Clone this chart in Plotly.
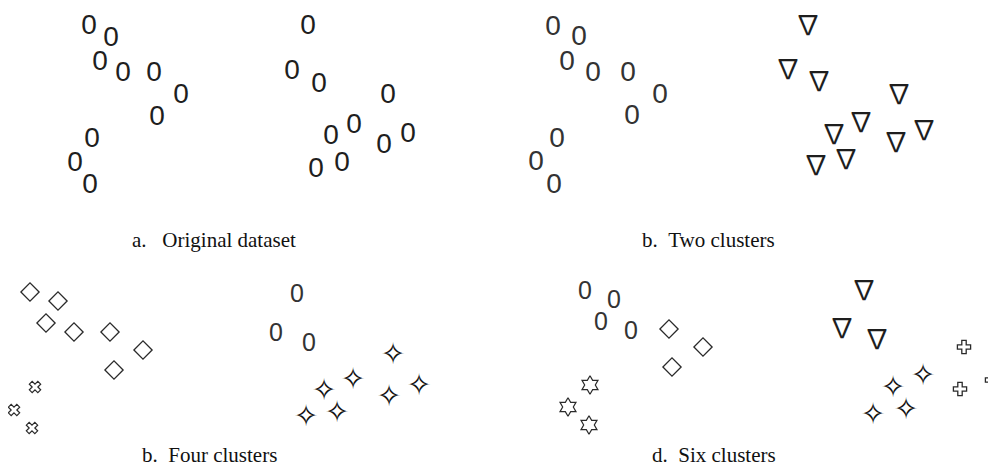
import plotly.graph_objects as go

# ----------------------------------------------------------------------------
# DATA (figure pixel coordinates, y measured from the top)
# ----------------------------------------------------------------------------

# a. Original dataset
orig_x = [89, 111, 100, 123, 154, 181, 157, 92, 75, 90,
          308, 292, 319, 388, 354, 331, 408, 384, 342, 316]
orig_y = [23, 35, 59, 70, 70, 92, 114, 136, 160, 182,
          23, 68, 81, 92, 122, 133, 131, 142, 160, 166]

# b. Two clusters
two_c1_x = [553, 579, 567, 593, 628, 660, 632, 557, 536, 554]
two_c1_y = [24, 34, 59, 70, 70, 92, 113, 136, 159, 182]
two_c2_x = [808, 788, 819, 899, 861, 834, 924, 896, 846, 816]
two_c2_y = [24, 68, 80, 93, 121, 133, 129, 141, 158, 164]

# b. Four clusters
four_c1_x = [30, 58, 46, 74, 110, 143, 114]
four_c1_y = [292, 301, 323, 332, 332, 350, 370]
four_c2_x = [35, 14, 32]
four_c2_y = [387, 410, 428]
four_c3_x = [297, 276, 309]
four_c3_y = [292, 331, 341]
four_c4_x = [393, 353, 324, 419, 389, 337, 306]
four_c4_y = [352, 377, 388, 383, 394, 410, 414]

# d. Six clusters
six_c1_x = [585, 614, 601, 631]
six_c1_y = [289, 298, 320, 329]
six_c2_x = [669, 703, 672]
six_c2_y = [329, 347, 367]
six_c3_x = [590, 568, 589]
six_c3_y = [385, 407, 425]
six_c4_x = [864, 842, 877]
six_c4_y = [289, 327, 338]
six_c5_x = [923, 893, 906, 873]
six_c5_y = [373, 385, 407, 412]
six_c6_x = [964, 960, 992]
six_c6_y = [347, 389, 380]

NBSP = '\u00a0'
captions = ['a.' + NBSP * 3 + 'Original dataset', 'b.' + NBSP * 2 + 'Two clusters',
            'b.' + NBSP * 2 + 'Four clusters', 'd.' + NBSP * 2 + 'Six clusters']
caption_x = [214, 708, 209, 714]
caption_y = [240, 240, 455, 455]

INK = '#1e1e1e'
PAGE_MARGIN = 8  # default body margin of the html page
GLYPH_DY = 4     # text glyphs sit a little high, push them down

fig = go.Figure()


def add_glyphs(x, y, glyph, size, family='Liberation Sans', color=INK):
    # rings, triangles and 4-point stars of the source look like font glyphs
    fig.add_trace(go.Scatter(
        x=x, y=y, mode='text', text=[glyph] * len(x), yaxis='y2',
        textposition='middle center',
        textfont=dict(family=family, size=size, color=color),
        hoverinfo='skip'))


def add_marks(x, y, symbol, size, width=1.3, color='#2a2a2a'):
    fig.add_trace(go.Scatter(
        x=x, y=y, mode='markers',
        marker=dict(symbol=symbol, size=size, color='white',
                    line=dict(color=color, width=width)),
        hoverinfo='skip'))


TRI_FONT = 'Noto Sans CJK JP'
STAR_FONT = 'DejaVu Sans'

add_glyphs(orig_x, orig_y, '0', 28)

add_glyphs(two_c1_x, two_c1_y, '0', 28, color='#333')
add_glyphs(two_c2_x, two_c2_y, '\u2207', 27, family=TRI_FONT)

add_marks(four_c1_x, four_c1_y, 'diamond', 14)
add_marks(four_c2_x, four_c2_y, 'x', 10, 1.2)
add_glyphs(four_c3_x, four_c3_y, '0', 25, color='#333')
add_glyphs(four_c4_x, four_c4_y, '\u2727', 30, family=STAR_FONT, color='#111')

add_glyphs(six_c1_x, six_c1_y, '0', 25, color='#333')
add_marks(six_c2_x, six_c2_y, 'diamond', 14)
add_marks(six_c3_x, six_c3_y, 'hexagram', 14, 1.2)
add_glyphs(six_c4_x, six_c4_y, '\u2207', 27, family=TRI_FONT)
add_glyphs(six_c5_x, six_c5_y, '\u2727', 30, family=STAR_FONT, color='#111')
add_marks(six_c6_x, six_c6_y, 'cross', 11, 1.3)

for txt, cx, cy in zip(captions, caption_x, caption_y):
    fig.add_annotation(x=cx, y=cy, text=txt, showarrow=False,
                       xanchor='center', yanchor='middle',
                       font=dict(family='Liberation Serif', size=21, color='#111'))

fig.update_layout(
    width=996 - PAGE_MARGIN, height=466 - PAGE_MARGIN,
    margin=dict(l=0, r=0, t=0, b=0),
    paper_bgcolor='white', plot_bgcolor='white',
    showlegend=False,
    xaxis=dict(range=[PAGE_MARGIN, 996], visible=False, fixedrange=True),
    yaxis=dict(range=[466, PAGE_MARGIN], visible=False, fixedrange=True),
    yaxis2=dict(range=[466 - GLYPH_DY, PAGE_MARGIN - GLYPH_DY], overlaying='y',
                visible=False, fixedrange=True),
)

fig.write_html('out.html', config={'displayModeBar': False})
